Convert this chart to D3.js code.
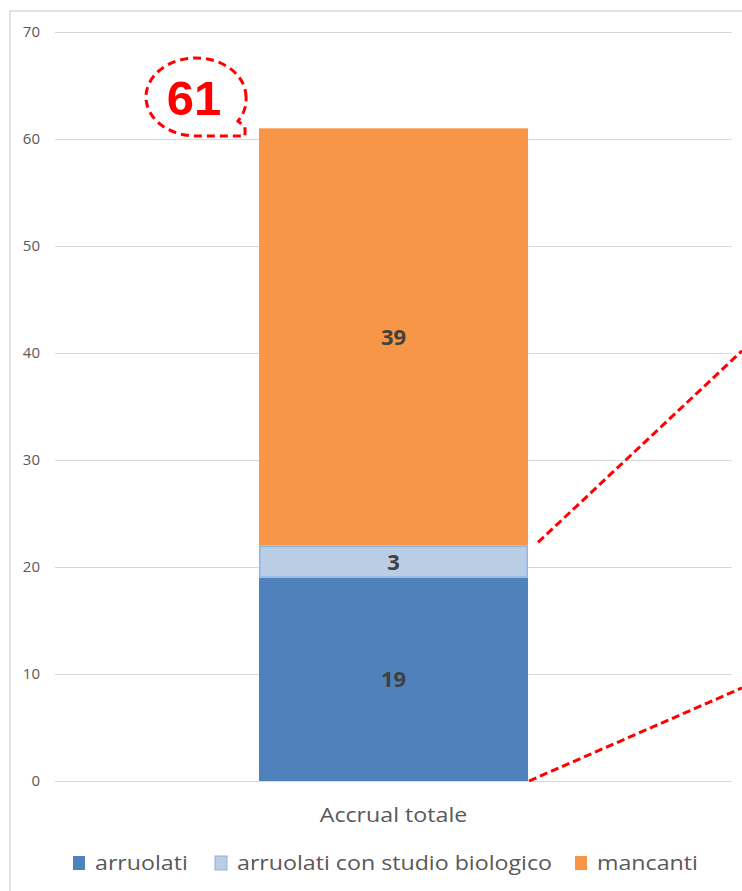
<!DOCTYPE html>
<html>
<head>
<meta charset="utf-8">
<script src="https://cdn.jsdelivr.net/npm/d3@7"></script>
<style>
  body { margin: 0; background: #fff; }
  svg { display: block; }
</style>
</head>
<body>
<svg id="chart" width="742" height="891"></svg>
<script>
// data
var categories = ["Accrual totale"];
var seriesNames = ["arruolati", "arruolati con studio biologico", "mancanti"];
var arruolati = [19];
var biologico = [3];
var mancanti = [39];
var yTicks = [0, 10, 20, 30, 40, 50, 60, 70];
var totalLabel = ["61"];

var colors = ["#4f81bd", "#b9cde5", "#f79646"];
var strokes = ["none", "#8eb4e3", "none"];
var font = "'Open Sans', Lato, sans-serif";
var stretch = 1.16; // screenshot text is a bit wider than normal

var svg = d3.select("#chart");
var width = +svg.attr("width");
var height = +svg.attr("height");

// outer frame (cut at right / bottom like the screenshot)
svg.append("path")
  .attr("d", "M10," + height + "V11H" + width)
  .attr("fill", "none")
  .attr("stroke", "#d9d9d9")
  .attr("stroke-width", 1.5);

var y = d3.scaleLinear().domain([0, 70]).range([781, 32]);
var x = d3.scaleBand().domain(categories).range([55, 732])
  .paddingInner(0).paddingOuter(0.758);

// gridlines
svg.selectAll(".grid")
  .data(yTicks)
  .enter().append("line")
  .attr("x1", 55).attr("x2", 732)
  .attr("y1", function(d) { return Math.round(y(d)) + 0.5; })
  .attr("y2", function(d) { return Math.round(y(d)) + 0.5; })
  .attr("stroke", "#d9d9d9")
  .attr("stroke-width", 1);

var yAxis = svg.append("g")
  .attr("transform", "translate(40,0)")
  .call(d3.axisLeft(y).tickValues(yTicks).tickSize(0).tickPadding(0));
yAxis.select(".domain").remove();
yAxis.selectAll("text")
  .attr("font-family", font)
  .attr("font-size", 15)
  .attr("fill", "#595959");

// stack
var rows = categories.map(function(c, i) {
  var r = { cat: c };
  r[seriesNames[0]] = arruolati[i];
  r[seriesNames[1]] = biologico[i];
  r[seriesNames[2]] = mancanti[i];
  return r;
});
var stacked = d3.stack().keys(seriesNames)(rows);

var layers = svg.selectAll(".layer")
  .data(stacked)
  .enter().append("g")
  .attr("class", "layer");

layers.selectAll("rect")
  .data(function(d, i) { return d.map(function(v) { return { v: v, i: i }; }); })
  .enter().append("rect")
  .attr("x", function(d) { return x(d.v.data.cat) + (d.i == 1 ? 0.75 : 0); })
  .attr("width", function(d) { return x.bandwidth() - (d.i == 1 ? 1.5 : 0); })
  .attr("y", function(d) { return y(d.v[1]) + (d.i == 1 ? 0.75 : 0); })
  .attr("height", function(d) { return y(d.v[0]) - y(d.v[1]) - (d.i == 1 ? 1.5 : 0); })
  .attr("fill", function(d) { return colors[d.i]; })
  .attr("stroke", function(d) { return strokes[d.i]; })
  .attr("stroke-width", 1.5);

layers.selectAll("text")
  .data(function(d, i) { return d.map(function(v) { return { v: v, i: i }; }); })
  .enter().append("text")
  .attr("x", function(d) { return x(d.v.data.cat) + x.bandwidth() / 2; })
  .attr("y", function(d) { return (y(d.v[0]) + y(d.v[1])) / 2 + 8; })
  .attr("text-anchor", "middle")
  .attr("font-family", font)
  .attr("font-weight", "bold")
  .attr("font-size", 22)
  .attr("fill", "#404040")
  .text(function(d) { return d.v[1] - d.v[0]; });

// category label
svg.selectAll(".cat")
  .data(categories)
  .enter().append("text")
  .attr("transform", function(d) {
    return "translate(" + (x(d) + x.bandwidth() / 2) + ",822) scale(" + stretch + ",1)";
  })
  .attr("text-anchor", "middle")
  .attr("font-family", font)
  .attr("font-size", 20)
  .attr("fill", "#595959")
  .text(function(d) { return d; });

// legend
var legendX = [73, 215, 575];
var legend = svg.selectAll(".leg")
  .data(seriesNames)
  .enter().append("g")
  .attr("transform", function(d, i) { return "translate(" + legendX[i] + ",856)"; });
legend.append("rect")
  .attr("width", 12).attr("height", 14)
  .attr("fill", function(d, i) { return colors[i]; })
  .attr("stroke", function(d, i) { return strokes[i]; });
legend.append("text")
  .attr("transform", "translate(22,14) scale(" + stretch + ",1)")
  .attr("font-family", font)
  .attr("font-size", 20)
  .attr("fill", "#595959")
  .text(function(d) { return d; });

// red annotation: total callout
svg.append("path")
  .attr("d", "M246,97 A50,39 0 1,0 196,136 L245,136 L245,127 L238,121 A50,39 0 0,0 246,97")
  .attr("fill", "none")
  .attr("stroke", "#ff0000")
  .attr("stroke-width", 3)
  .attr("stroke-dasharray", "8,5");
svg.append("text")
  .attr("x", 194).attr("y", 115)
  .attr("text-anchor", "middle")
  .attr("font-family", "'Liberation Sans', Arial, sans-serif")
  .attr("font-weight", "bold")
  .attr("font-size", 49)
  .attr("fill", "#ff0000")
  .text(totalLabel[0]);

// red dashed zoom lines toward the next panel
var barRight = x(categories[0]) + x.bandwidth();
var zoomLines = [
  { x1: barRight + 10, y1: y(22.3), x2: width, y2: y(40.2) },
  { x1: barRight + 1, y1: y(0), x2: width, y2: y(8.7) }
];
svg.selectAll(".zoomline")
  .data(zoomLines)
  .enter().append("line")
  .attr("x1", function(d) { return d.x1; })
  .attr("y1", function(d) { return d.y1; })
  .attr("x2", function(d) { return d.x2; })
  .attr("y2", function(d) { return d.y2; })
  .attr("stroke", "#ff0000")
  .attr("stroke-width", 3)
  .attr("stroke-dasharray", "8,4");
</script>
</body>
</html>
